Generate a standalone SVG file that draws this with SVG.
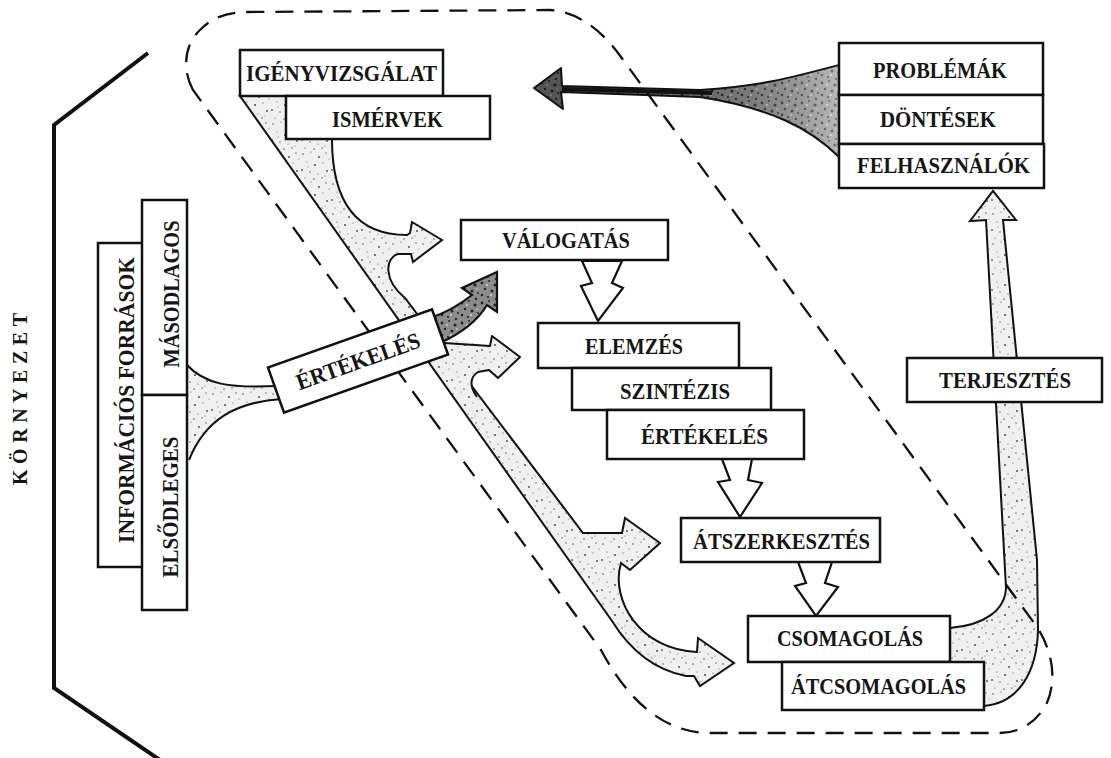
<svg xmlns="http://www.w3.org/2000/svg" width="1111" height="758" viewBox="0 0 1111 758">
  <defs>
    <style>
      .box { fill: #fff; stroke: #111; stroke-width: 2.5; }
      .lbl { font-family: "Liberation Serif", "Times New Roman", serif; font-size: 23px; font-weight: bold; fill: #161616; text-anchor: middle; }
      .env { font-family: "Liberation Serif", "Times New Roman", serif; font-size: 20px; font-weight: bold; fill: #161616; text-anchor: middle; }
      .edge { fill: none; stroke: #111; stroke-width: 2; stroke-linejoin: round; }
      .flow { fill: url(#stip); stroke: #111; stroke-width: 2; stroke-linejoin: miter; }
      .flowDark { fill: url(#stipDark); stroke: #111; stroke-width: 2.2; stroke-linejoin: miter; }
      .hollow { fill: #fff; stroke: #111; stroke-width: 2.2; stroke-linejoin: miter; }
      .dash { fill: none; stroke: #111; stroke-width: 2.3; stroke-dasharray: 18 11; }
    </style>
    <!-- light stippled fill for flow bands -->
    <pattern id="stip" patternUnits="userSpaceOnUse" width="30" height="30">
      <rect width="30" height="30" fill="#f0f0f0"/>
      <g fill="#555">
        <circle cx="3" cy="4" r="0.8"/><circle cx="11" cy="2" r="0.6"/><circle cx="19" cy="7" r="1"/>
        <circle cx="26" cy="3" r="0.7"/><circle cx="7" cy="12" r="0.6"/><circle cx="15" cy="15" r="1.1"/>
        <circle cx="23" cy="13" r="0.6"/><circle cx="2" cy="20" r="0.9"/><circle cx="10" cy="22" r="0.7"/>
        <circle cx="18" cy="24" r="0.6"/><circle cx="27" cy="21" r="1"/><circle cx="5" cy="28" r="0.6"/>
        <circle cx="14" cy="29" r="0.8"/><circle cx="22" cy="28" r="0.7"/><circle cx="29" cy="9" r="0.5"/>
        <circle cx="8" cy="17" r="0.5"/><circle cx="25" cy="26" r="0.5"/>
      </g>
    </pattern>
    <!-- dark stippled fill -->
    <pattern id="stipDark" patternUnits="userSpaceOnUse" width="20" height="20">
      <rect width="20" height="20" fill="#8c8c8c"/>
      <g fill="#222">
        <circle cx="2" cy="3" r="1.4"/><circle cx="9" cy="1" r="1"/><circle cx="15" cy="5" r="1.6"/>
        <circle cx="5" cy="9" r="1.2"/><circle cx="12" cy="11" r="1.5"/><circle cx="18" cy="13" r="1"/>
        <circle cx="2" cy="15" r="1.3"/><circle cx="8" cy="17" r="1.1"/><circle cx="16" cy="19" r="1.2"/>
      </g>
      <g fill="#ddd">
        <circle cx="7" cy="5" r="0.9"/><circle cx="17" cy="9" r="0.8"/><circle cx="11" cy="15" r="0.9"/>
      </g>
    </pattern>
    <linearGradient id="funnelShade" x1="560" y1="0" x2="840" y2="0" gradientUnits="userSpaceOnUse">
      <stop offset="0" stop-color="#111" stop-opacity="0.45"/>
      <stop offset="0.55" stop-color="#111" stop-opacity="0.25"/>
      <stop offset="1" stop-color="#fff" stop-opacity="0.4"/>
    </linearGradient>
  </defs>

  <!-- environment bracket and caption -->
  <g id="environment">
    <path d="M148,53 L54,125 L54,688 L160,760" fill="none" stroke="#111" stroke-width="4" stroke-linejoin="miter"/>
    <text class="env" transform="translate(27,399) rotate(-90)" textLength="172" lengthAdjust="spacing">KÖRNYEZET</text>
  </g>

  <!-- stippled flow bands -->
  <g id="connectors">
    <!-- main diagonal band with branches -->
    <path class="flow" d="M240,96 L290,96 L290,139 L332,139 C332,200 355,235 407,235 L410,233 L412,222 L442,240 L413,262 L411,254 L398,254 C385,258 383,280 405,298 L583,533 L622,533 L625,518 L660,543 L630,570 L621,563 C610,600 640,650 697,652 L698,638 L734,663 L700,686 L694,676 L686,676 C655,670 630,650 612,621 Z"/>
    <!-- branch towards ELEMZÉS -->
    <path d="M436,336 L490,346 L492,336 L520,357 L498,378 L489,370 L478,372 C470,377 469,386 477,397 L459,397 Z" fill="url(#stip)"/>
    <path class="edge" d="M444,343 L490,346 L492,336 L520,357 L498,378 L489,370 L478,372 C470,377 469,386 477,397"/>
    <!-- dark arrow from evaluation towards VÁLOGATÁS -->
    <path class="flowDark" d="M430,318 C448,312 462,303 472,295 L462,288 L497,272 L497,312 L487,305 C478,320 462,333 440,343 Z"/>
    <!-- funnel from information sources -->
    <path d="M186,364 C205,385 230,388 276,386 L282,400 C235,402 205,420 189,460 Z" fill="url(#stip)"/>
    <path class="edge" d="M186,364 C205,385 230,388 276,386"/>
    <path class="edge" d="M282,399 C235,402 205,420 189,460"/>
    <!-- distribution band up to users -->
    <path class="flow" d="M950,628 C985,625 1005,610 1006,588 L986,220 L970,221 L993,191 L1016,220 L1003,220 L1037,560 L1038,630 C1037,670 1020,703 984,706 L950,706 Z"/>
    <!-- feedback arrow from problems back to needs assessment -->
    <path d="M839,65 C790,78 760,86 700,90 L562,86 L561,68 L534,88 L563,109 L561,92 L700,97 C770,108 810,128 839,157 Z" fill="url(#stipDark)"/>
    <path d="M839,65 C790,78 760,86 700,90 L562,86 L561,68 L534,88 L563,109 L561,92 L700,97 C770,108 810,128 839,157 Z" fill="url(#funnelShade)"/>
    <path class="edge" d="M839,65 C790,78 760,86 700,90 L562,86 L561,68 L534,88 L563,109 L561,92 L700,97 C770,108 810,128 839,157"/>
    <path d="M562,89 L712,93" stroke="#111" stroke-width="4" fill="none"/>

    <!-- hollow step arrows -->
    <path class="hollow" d="M582,261 L592,283 L581,286 L598,321 L623,288 L612,283 L622,261 Z"/>
    <path class="hollow" d="M722,459 L730,480 L718,482 L740,517 L762,483 L748,480 L752,459 Z"/>
    <path class="hollow" d="M798,562 L806,583 L795,586 L816,616 L838,587 L825,583 L832,562 Z"/>
  </g>

  <!-- dashed boundary of the processing cycle -->
  <path id="boundary" class="dash" d="M193,90 C182,70 184,45 200,30 C212,18 226,12 248,12 L550,10 C580,12 604,33 621,57 L1037,627 C1052,650 1058,680 1046,705 C1036,722 1020,733 1000,733 L710,733 C660,733 625,695 601,650 Z"/>

  <!-- information sources -->
  <g id="info-sources">
    <rect class="box" x="98" y="243" width="46" height="324"/>
    <text class="lbl" transform="translate(134,400) rotate(-90)" textLength="286" lengthAdjust="spacingAndGlyphs">INFORMÁCIÓS FORRÁSOK</text>
  </g>
  <g id="secondary">
    <rect class="box" x="142" y="200" width="45" height="195"/>
    <text class="lbl" transform="translate(179,294) rotate(-90)" textLength="147" lengthAdjust="spacingAndGlyphs">MÁSODLAGOS</text>
  </g>
  <g id="primary">
    <rect class="box" x="142" y="395" width="45" height="215"/>
    <text class="lbl" transform="translate(178,507) rotate(-90)" textLength="141" lengthAdjust="spacingAndGlyphs">ELSŐDLEGES</text>
  </g>

  <!-- evaluation of sources (tilted) -->
  <g id="evaluation-tilted" transform="rotate(-19.5 358 361)">
    <rect class="box" x="271" y="337" width="174" height="48"/>
    <text class="lbl" x="358" y="369" textLength="130" lengthAdjust="spacingAndGlyphs">ÉRTÉKELÉS</text>
  </g>

  <!-- needs -->
  <g id="needs">
    <rect class="box" x="240" y="50" width="203" height="46"/>
    <text class="lbl" x="341.5" y="81" textLength="191" lengthAdjust="spacingAndGlyphs">IGÉNYVIZSGÁLAT</text>
  </g>
  <g id="criteria">
    <rect class="box" x="286" y="96" width="204" height="43"/>
    <text class="lbl" x="387.5" y="127" textLength="111" lengthAdjust="spacingAndGlyphs">ISMÉRVEK</text>
  </g>

  <!-- processing chain -->
  <g id="selection">
    <rect class="box" x="461" y="220" width="207" height="40"/>
    <text class="lbl" x="566" y="248" textLength="128" lengthAdjust="spacingAndGlyphs">VÁLOGATÁS</text>
  </g>
  <g id="analysis">
    <rect class="box" x="538" y="323" width="201" height="45"/>
    <text class="lbl" x="634" y="354" textLength="98" lengthAdjust="spacingAndGlyphs">ELEMZÉS</text>
  </g>
  <g id="synthesis">
    <rect class="box" x="572" y="368" width="199" height="42"/>
    <text class="lbl" x="675" y="399" textLength="110" lengthAdjust="spacingAndGlyphs">SZINTÉZIS</text>
  </g>
  <g id="evaluation">
    <rect class="box" x="607" y="410" width="197" height="49"/>
    <text class="lbl" x="704.5" y="444" textLength="127" lengthAdjust="spacingAndGlyphs">ÉRTÉKELÉS</text>
  </g>
  <g id="restructuring">
    <rect class="box" x="681" y="518" width="199" height="44"/>
    <text class="lbl" x="781.5" y="549" textLength="177" lengthAdjust="spacingAndGlyphs">ÁTSZERKESZTÉS</text>
  </g>
  <g id="packaging">
    <rect class="box" x="748" y="616" width="202" height="46"/>
    <text class="lbl" x="850" y="646" textLength="146" lengthAdjust="spacingAndGlyphs">CSOMAGOLÁS</text>
  </g>
  <g id="repackaging">
    <rect class="box" x="782" y="662" width="202" height="48"/>
    <text class="lbl" x="878.5" y="694" textLength="175" lengthAdjust="spacingAndGlyphs">ÁTCSOMAGOLÁS</text>
  </g>
  <g id="dissemination">
    <rect class="box" x="907" y="358" width="195" height="44"/>
    <text class="lbl" x="1005" y="388" textLength="132" lengthAdjust="spacingAndGlyphs">TERJESZTÉS</text>
  </g>

  <!-- users side -->
  <g id="problems">
    <rect class="box" x="839" y="43" width="204" height="52"/>
    <text class="lbl" x="940" y="78" textLength="134" lengthAdjust="spacingAndGlyphs">PROBLÉMÁK</text>
  </g>
  <g id="decisions">
    <rect class="box" x="839" y="95" width="204" height="49"/>
    <text class="lbl" x="938" y="127" textLength="116" lengthAdjust="spacingAndGlyphs">DÖNTÉSEK</text>
  </g>
  <g id="users">
    <rect class="box" x="839" y="144" width="205" height="44"/>
    <text class="lbl" x="943.5" y="173" textLength="173" lengthAdjust="spacingAndGlyphs">FELHASZNÁLÓK</text>
  </g>
</svg>
